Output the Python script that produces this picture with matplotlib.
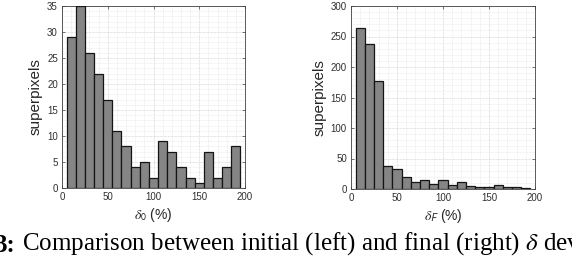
import numpy as np
import matplotlib
matplotlib.use("Agg")
import matplotlib.pyplot as plt
from matplotlib.ticker import MultipleLocator

# bin edges (percent) and counts
bin_edges = list(range(5, 200, 10))
counts_initial = [29, 35, 26, 22, 17, 11, 8, 4, 5, 2, 9, 7, 4, 2, 1, 7, 2, 4, 8]
counts_final = [264, 237, 177, 38, 33, 20, 12, 14, 9, 14, 7, 12, 5, 3, 4, 6, 4, 3, 1]
xlabels = [r"$\delta_{\mathsf{0}}$ (%)", r"$\delta_{\mathsf{F}}$ (%)"]
ylims = [35, 300]
ysteps = [5, 50]
yminor = [1, 10]

plt.rcParams["font.family"] = ["Liberation Sans", "DejaVu Sans"]

W, H = 572, 258
fig = plt.figure(figsize=(W / 100, H / 100), dpi=100)

boxes = [(62, 6, 183, 182), (351, 6, 184, 183)]
datasets = [counts_initial, counts_final]

for i in range(2):
    x0, y0, w, h = boxes[i]
    ax = fig.add_axes([x0 / W, 1 - (y0 + h) / H, w / W, h / H])
    edges = np.array(bin_edges, dtype=float)
    ax.bar(edges[:-1], datasets[i], width=np.diff(edges), align="edge",
           color="#858585", edgecolor="#151515", linewidth=0.9, zorder=3)
    ax.set_xlim(0, 200)
    ax.set_ylim(0, ylims[i])
    ax.xaxis.set_major_locator(MultipleLocator(50))
    ax.xaxis.set_minor_locator(MultipleLocator(10))
    ax.yaxis.set_major_locator(MultipleLocator(ysteps[i]))
    ax.yaxis.set_minor_locator(MultipleLocator(yminor[i]))
    ax.grid(which="major", color="#c8c8c8", linestyle=(0, (1, 1)), linewidth=0.5, zorder=0)
    ax.grid(which="minor", color="#dcdcdc", linestyle=(0, (1, 1)), linewidth=0.4, zorder=0)
    ax.tick_params(which="both", direction="in", top=True, right=True,
                   labelsize=7, colors="#404040", labelcolor="#303030",
                   length=2.5, width=0.5, pad=3)
    ax.tick_params(which="minor", length=0)
    for s in ax.spines.values():
        s.set_color("#404040")
        s.set_linewidth(0.6)
    ax.set_ylabel("superpixels", fontsize=11, color="#262626", labelpad=3)
    ax.xaxis.set_label_text(xlabels[i], fontsize=10, color="#262626",
                            math_fontfamily="stix")
    ax.xaxis.labelpad = 3

# caption, cut off at the edges like in the source page
t1 = fig.text(-5 / W, 6 / H, "3:", fontsize=18, fontweight="bold",
              family="Liberation Serif", va="baseline", ha="left")
fig.axes[0].annotate(" Comparison between initial (left) and final (right) $\\delta$ deviations",
                     xy=(1, 0), xycoords=t1, va="bottom", ha="left",
                     fontsize=18, family="Liberation Serif",
                     math_fontfamily="stix", annotation_clip=False)

fig.savefig("out.png", dpi=100)
